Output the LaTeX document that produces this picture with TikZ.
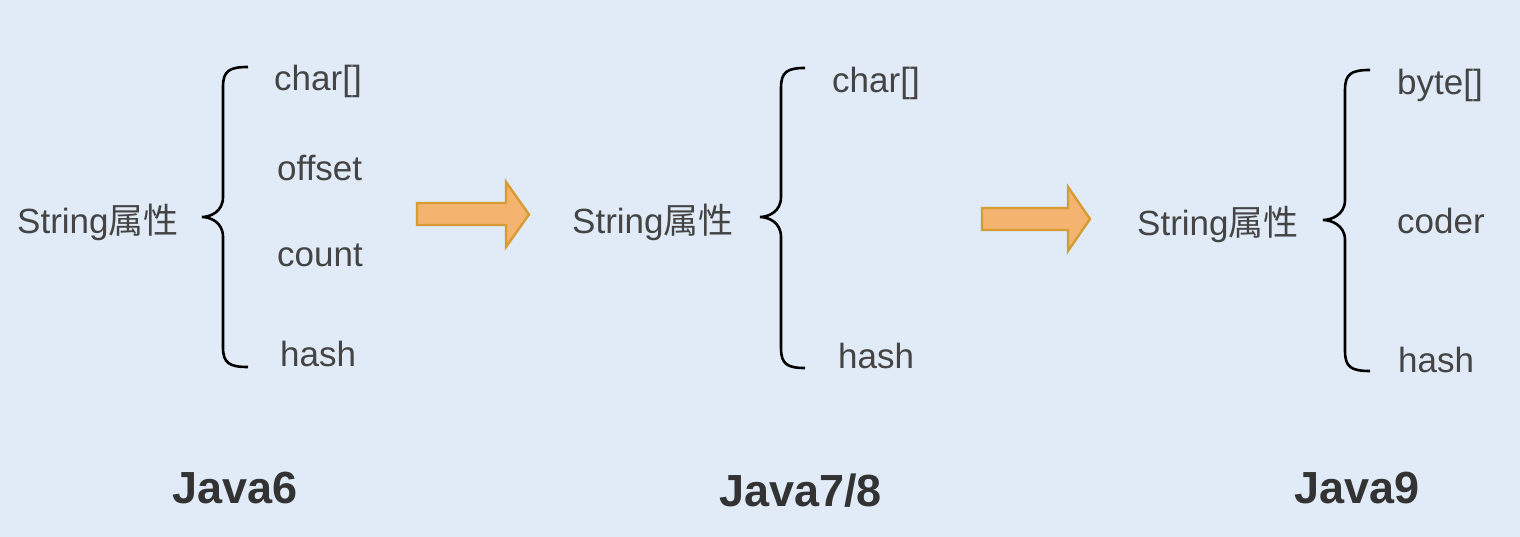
\documentclass[tikz,border=0pt]{standalone}
\usepackage{fontspec}
\setmainfont{Liberation Sans}
\newfontfamily\cjk{Noto Sans CJK SC}
\definecolor{bgc}{HTML}{E1EBF7}
\definecolor{txt}{HTML}{444444}
\definecolor{ttl}{HTML}{333333}
\definecolor{arrf}{HTML}{F4B470}
\definecolor{arrd}{HTML}{D69B33}
\newcommand\mybrace[6]{% tipx, vertx, endx, topy, midy, boty
  \draw[bracestyle] (#3,#4) .. controls ({#2+6},#4) and (#2,{#4+4}) .. (#2,{#4+20})
    -- (#2,{#5-20}) .. controls (#2,{#5-5}) and ({#1+8},#5) .. (#1,#5)
    .. controls ({#1+8},#5) and (#2,{#5+5}) .. (#2,{#5+20})
    -- (#2,{#6-20}) .. controls (#2,{#6-4}) and ({#2+6},#6) .. (#3,#6);}
\newcommand\myarrow[7]{% x0, x1(head base), tip, shaft top, shaft bottom, head top, head bottom
  \draw[arrowstyle] (#1,#4) -- (#2,#4) -- (#2,#6) -- (#3,{(#6+#7)/2}) -- (#2,#7) -- (#2,#5) -- (#1,#5) -- cycle;}
\begin{document}
\begin{tikzpicture}[x=1pt,y=-1pt,
  lbl/.style={anchor=base west,inner sep=0pt,text=txt,font=\fontsize{35}{42}\selectfont},
  ttlstyle/.style={anchor=base west,inner sep=0pt,text=ttl,font=\fontsize{45}{52}\selectfont\bfseries},
  bracestyle/.style={draw=black,line width=2.6pt},
  arrowstyle/.style={fill=arrf,draw=arrd,line width=2.4pt,line join=miter}]
\fill[bgc] (0,0) rectangle (1520,537);
\useasboundingbox (0,0) rectangle (1520,537);
% Java6
\node[lbl] (s6) at (17,234) {String{\cjk 属性}};
\mybrace{202}{223}{248}{67}{217}{367}
\node[lbl] (a6) at (274,91) {char[]};
\node[lbl] (b6) at (277,181) {offset};
\node[lbl] (c6) at (277,266) {count};
\node[lbl] (d6) at (280,366) {hash};
\node[ttlstyle] (t6) at (172,503) {Java6};
% arrow 1
\myarrow{417}{506}{529}{203}{225}{182}{247}
% Java7/8
\node[lbl] (s7) at (572,234) {String{\cjk 属性}};
\mybrace{760}{781}{805}{68}{217}{368}
\node[lbl] (a7) at (832,93) {char[]};
\node[lbl] (d7) at (838,368) {hash};
\node[ttlstyle] (t7) at (719,506) {Java7/8};
% arrow 2
\myarrow{982}{1068}{1090}{208}{230}{187}{251}
% Java9
\node[lbl] (s9) at (1137,236) {String{\cjk 属性}};
\mybrace{1323}{1345}{1370}{70}{220}{371}
\node[lbl] (a9) at (1397,95) {byte[]};
\node[lbl] (b9) at (1397,234) {coder};
\node[lbl] (d9) at (1398,372) {hash};
\node[ttlstyle] (t9) at (1294,503) {Java9};
\end{tikzpicture}
\end{document}
